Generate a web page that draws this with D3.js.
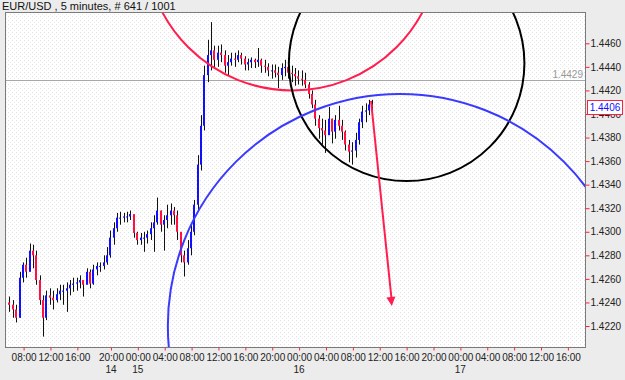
<html>
<head>
  <meta charset="utf-8" />
  <script src="https://d3js.org/d3.v7.min.js"></script>
</head>
<body style="margin: 0; background: #ececec">
<script>

// 30 minute bars (trading hours from the first 08:00)
const barStart = -2.1, barStep = 0.5
const firstOpen = 1.4240
const highs = [1.4245,1.4242,1.4238,1.4266,1.4274,1.4278,1.4290,1.4289,1.4284,1.4263,
  1.4246,1.4250,1.4252,1.4250,1.4252,1.4255,1.4255,1.4257,1.4259,1.4261,
  1.4261,1.4263,1.4257,1.4269,1.4268,1.4272,1.4274,1.4274,1.4280,1.4287,
  1.4301,1.4308,1.4316,1.4317,1.4316,1.4317,1.4318,1.4314,1.4300,1.4299,
  1.4300,1.4301,1.4308,1.4314,1.4329,1.4318,1.4314,1.4323,1.4324,1.4321,
  1.4318,1.4297,1.4284,1.4293,1.4306,1.4327,1.4365,1.4399,1.4441,1.4463,
  1.4478,1.4458,1.4458,1.4459,1.4454,1.4450,1.4452,1.4452,1.4454,1.4452,
  1.4449,1.4447,1.4448,1.4447,1.4456,1.4447,1.4446,1.4443,1.4442,1.4442,
  1.4440,1.4443,1.4446,1.4444,1.4441,1.4439,1.4437,1.4437,1.4435,1.4427,
  1.4420,1.4412,1.4399,1.4396,1.4395,1.4406,1.4396,1.4399,1.4407,1.4395,
  1.4386,1.4378,1.4376,1.4384,1.4396,1.4407,1.4409,1.4412,1.4412]
const lows = [1.4232,1.4227,1.4223,1.4227,1.4257,1.4261,1.4268,1.4269,1.4255,1.4238,
  1.4211,1.4225,1.4238,1.4234,1.4240,1.4242,1.4238,1.4232,1.4246,1.4249,
  1.4250,1.4252,1.4245,1.4257,1.4252,1.4255,1.4263,1.4266,1.4268,1.4272,
  1.4278,1.4289,1.4300,1.4306,1.4308,1.4308,1.4310,1.4295,1.4289,1.4289,
  1.4283,1.4290,1.4293,1.4283,1.4306,1.4300,1.4284,1.4303,1.4306,1.4306,
  1.4293,1.4274,1.4262,1.4272,1.4280,1.4297,1.4318,1.4352,1.4386,1.4427,
  1.4437,1.4439,1.4440,1.4444,1.4435,1.4433,1.4441,1.4440,1.4444,1.4442,
  1.4437,1.4437,1.4439,1.4439,1.4440,1.4435,1.4435,1.4432,1.4430,1.4431,
  1.4422,1.4429,1.4432,1.4430,1.4427,1.4424,1.4425,1.4424,1.4422,1.4413,
  1.4405,1.4390,1.4379,1.4374,1.4367,1.4386,1.4375,1.4379,1.4386,1.4378,
  1.4369,1.4359,1.4357,1.4363,1.4374,1.4388,1.4393,1.4399,1.4402]
const closes = [1.4238,1.4234,1.4227,1.4261,1.4272,1.4266,1.4284,1.4280,1.4259,1.4242,
  1.4227,1.4246,1.4244,1.4242,1.4247,1.4250,1.4250,1.4252,1.4255,1.4256,
  1.4257,1.4259,1.4255,1.4266,1.4256,1.4268,1.4271,1.4271,1.4274,1.4280,
  1.4295,1.4303,1.4312,1.4312,1.4313,1.4313,1.4315,1.4299,1.4293,1.4295,
  1.4295,1.4298,1.4303,1.4308,1.4318,1.4306,1.4310,1.4314,1.4318,1.4314,
  1.4300,1.4280,1.4274,1.4286,1.4300,1.4323,1.4357,1.4390,1.4433,1.4450,
  1.4454,1.4446,1.4452,1.4450,1.4441,1.4444,1.4447,1.4446,1.4450,1.4447,
  1.4442,1.4444,1.4446,1.4444,1.4446,1.4441,1.4440,1.4437,1.4437,1.4435,
  1.4433,1.4439,1.4440,1.4435,1.4434,1.4432,1.4430,1.4429,1.4425,1.4417,
  1.4408,1.4396,1.4388,1.4386,1.4382,1.4396,1.4385,1.4395,1.4390,1.4385,
  1.4374,1.4368,1.4369,1.4378,1.4393,1.4402,1.4403,1.4408,1.4406]

const priceTicks = [1.4220,1.4240,1.4260,1.4280,1.4300,1.4320,1.4340,1.4360,1.4380,1.4400,1.4420,1.4440,1.4460]
const timeTicks = [0,4,8,13,17,21,25,29,33,37,41,45,49,53,57,61,65,69,73,77,81]
const timeLabels = ['08:00','12:00','16:00','20:00','00:00','04:00','08:00','12:00','16:00','20:00',
  '00:00','04:00','08:00','12:00','16:00','20:00','00:00','04:00','08:00','12:00','16:00']
const dayTicks = [13,17,41,65]
const dayLabels = ['14','15','16','17']

const hLine = 1.4429
const lastPrice = 1.4406

// drawn objects: [hour, price of centre, price of a point straight above/below]
const redCircle = [40, 1.4545, 1.4420]
const blackCircle = [57, 1.4443, 1.4343]
const blueCircle = [56, 1.4220, 1.4417]
const arrowFrom = [51.7, 1.4411]
const arrowTo = [54.8, 1.4237]

const W = 625, H = 380
const pLeft = 6, pRight = 585, pTop = 13, pBottom = 347
const font = "'Liberation Sans', Arial, sans-serif"

var svg = d3.select("body").append("svg")
  .attr("width", W).attr("height", H)
  .style("font-family", font)

let x = d3.scaleLinear().domain([0, 81]).range([23.6, 567.9])
let y = d3.scaleLinear().domain([1.4220, 1.4460]).range([326, 43.3])

let defs = svg.append("defs")
let pat = defs.append("pattern").attr("id", "dots")
  .attr("width", 4).attr("height", 4).attr("patternUnits", "userSpaceOnUse")
pat.append("rect").attr("width", 4).attr("height", 4).attr("fill", "#fff")
pat.append("rect").attr("x", 0).attr("y", 0).attr("width", 1).attr("height", 1).attr("fill", "#e4e0e4")
pat.append("rect").attr("x", 2).attr("y", 2).attr("width", 1).attr("height", 1).attr("fill", "#e8e8e8")
defs.append("clipPath").attr("id", "plot")
  .append("rect").attr("x", pLeft).attr("y", pTop).attr("width", pRight - pLeft).attr("height", pBottom - pTop)

svg.append("text").attr("x", 2).attr("y", 10)
  .attr("font-size", 11).attr("fill", "#111")
  .text("EUR/USD , 5 minutes, # 641 / 1001")

svg.append("rect").attr("x", pLeft).attr("y", pTop)
  .attr("width", pRight - pLeft).attr("height", pBottom - pTop)
  .attr("fill", "url(#dots)")

let plot = svg.append("g").attr("clip-path", "url(#plot)")

// horizontal line
plot.append("line")
  .attr("x1", pLeft).attr("x2", pRight)
  .attr("y1", Math.round(y(hLine)) + 0.5).attr("y2", Math.round(y(hLine)) + 0.5)
  .attr("stroke", "#a8a8a8")
svg.append("text").attr("x", pRight - 2).attr("y", Math.round(y(hLine)) - 2)
  .attr("text-anchor", "end").attr("font-size", 10).attr("fill", "#999")
  .text(hLine.toFixed(4))

// bars
let bars = closes.map((c, i) => ({
  t: barStart + i * barStep,
  o: i === 0 ? firstOpen : closes[i - 1],
  h: highs[i], l: lows[i], c: c
}))

let barG = plot.append("g")
barG.selectAll(".wick").data(bars).enter().append("line")
  .attr("x1", d => Math.round(x(d.t)) + 0.5).attr("x2", d => Math.round(x(d.t)) + 0.5)
  .attr("y1", d => y(d.h)).attr("y2", d => y(d.l))
  .attr("stroke", "#111").attr("stroke-width", 1)
barG.selectAll(".body").data(bars).enter().append("rect")
  .attr("x", d => Math.round(x(d.t)) - 1)
  .attr("width", 2)
  .attr("y", d => y(Math.max(d.o, d.c)))
  .attr("height", d => Math.max(1, Math.abs(y(d.o) - y(d.c))))
  .attr("fill", d => d.c >= d.o ? "#1010ff" : "#ff1040")

// circles
function circle(c, color) {
  let cx = x(c[0]), cy = y(c[1])
  plot.append("circle")
    .attr("cx", cx).attr("cy", cy).attr("r", Math.abs(y(c[2]) - cy))
    .attr("fill", "none").attr("stroke", color).attr("stroke-width", 2)
}
circle(redCircle, "#ff1e4e")
circle(blackCircle, "#000")
circle(blueCircle, "#3a3aff")

// arrow
let ax1 = x(arrowFrom[0]), ay1 = y(arrowFrom[1])
let ax2 = x(arrowTo[0]), ay2 = y(arrowTo[1])
plot.append("line")
  .attr("x1", ax1).attr("y1", ay1).attr("x2", ax2).attr("y2", ay2 - 4)
  .attr("stroke", "#ff1e4e").attr("stroke-width", 2)
let ang = Math.atan2(ay2 - ay1, ax2 - ax1)
let hl = 9, hw = 4.5
let bx = ax2 - hl * Math.cos(ang), by = ay2 - hl * Math.sin(ang)
plot.append("polygon")
  .attr("points", [
    [ax2, ay2],
    [bx + hw * Math.sin(ang), by - hw * Math.cos(ang)],
    [bx - hw * Math.sin(ang), by + hw * Math.cos(ang)]
  ].map(p => p.join(",")).join(" "))
  .attr("fill", "#ff1e4e")

// frame
svg.append("rect").attr("x", pLeft - 0.5).attr("y", pTop - 0.5)
  .attr("width", pRight - pLeft + 1).attr("height", pBottom - pTop + 1)
  .attr("fill", "none").attr("stroke", "#7a7a7a")

// axes
let yAxis = d3.axisRight(y).tickValues(priceTicks)
  .tickFormat(d3.format(".4f")).tickSize(4).tickPadding(1)
let ya = svg.append("g").attr("transform", "translate(" + (pRight + 0.5) + ",0)").call(yAxis)
ya.select(".domain").remove()
ya.selectAll(".tick line").attr("stroke", "#ff2040")
ya.selectAll("text").attr("font-size", 10).attr("fill", "#222").style("font-family", font)

let xAxis = d3.axisBottom(x).tickValues(timeTicks)
  .tickFormat((d, i) => timeLabels[i]).tickSize(3).tickPadding(3)
let xa = svg.append("g").attr("transform", "translate(0," + (pBottom + 0.5) + ")").call(xAxis)
xa.select(".domain").remove()
xa.selectAll(".tick line").attr("stroke", "#ff2040")
xa.selectAll("text").attr("font-size", 10).attr("fill", "#222").style("font-family", font)

svg.append("g").selectAll("text").data(dayTicks).enter().append("text")
  .attr("x", d => x(d)).attr("y", 373)
  .attr("text-anchor", "middle").attr("font-size", 10).attr("fill", "#222")
  .style("font-family", font)
  .text((d, i) => dayLabels[i])

// last price box
let ly = Math.round(y(lastPrice))
svg.append("rect").attr("x", 587.5).attr("y", ly - 6.5)
  .attr("width", 35).attr("height", 14)
  .attr("fill", "#fff").attr("stroke", "#ff2040")
svg.append("text").attr("x", 605).attr("y", ly + 4)
  .attr("text-anchor", "middle").attr("font-size", 10).attr("fill", "#1010ff")
  .text(lastPrice.toFixed(4))

</script>
</body>
</html>
